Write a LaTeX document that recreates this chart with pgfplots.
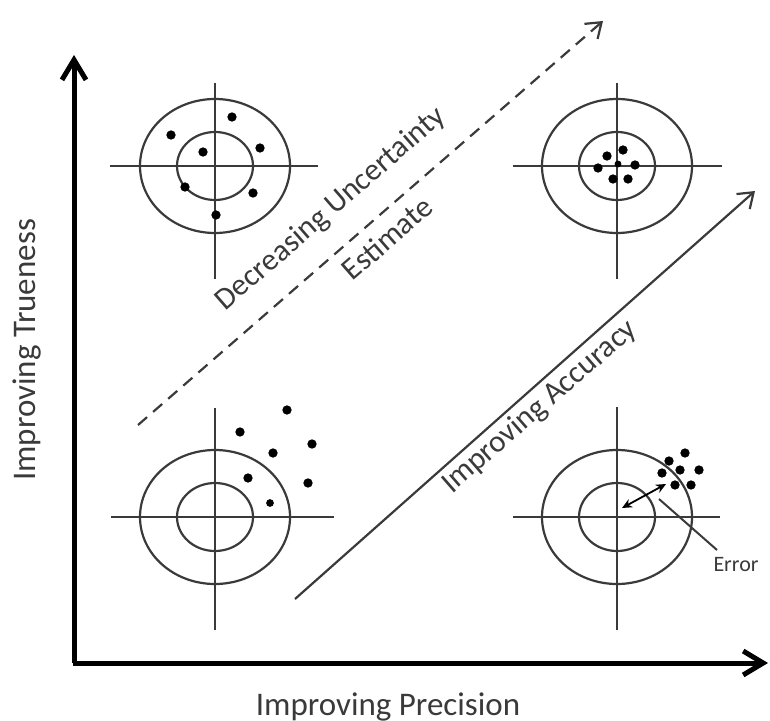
\documentclass[border=0pt]{standalone}
\usepackage{pgfplots}
\pgfplotsset{compat=1.18}
\usepackage{fontspec}
\setmainfont{Carlito}
\usetikzlibrary{arrows.meta}
\definecolor{tgt}{HTML}{3A3A3A}
\begin{document}
\begin{tikzpicture}
\begin{axis}[
  width=385pt, height=360.5pt, scale only axis,
  xmin=0, xmax=770, ymin=0, ymax=721, y dir=reverse,
  hide axis, clip=false,
]
\path[use as bounding box] (axis cs:0,0) rectangle (axis cs:770,721);

% ---- crosshairs
\addplot[tgt, line width=1.1pt] coordinates {(215,83) (215,279)};
\addplot[tgt, line width=1.1pt] coordinates {(110,166) (318,166)};
\addplot[tgt, line width=1.1pt] coordinates {(617,83) (617,279)};
\addplot[tgt, line width=1.1pt] coordinates {(513,166) (722,166)};
\addplot[tgt, line width=1.1pt] coordinates {(215,408) (215,630)};
\addplot[tgt, line width=1.1pt] coordinates {(111,517) (334,517)};
\addplot[tgt, line width=1.1pt] coordinates {(617,407) (617,630)};
\addplot[tgt, line width=1.1pt] coordinates {(513,517) (720,517)};

% ---- rings
\draw[tgt, line width=1.1pt] (axis cs:215,166) ellipse [x radius=75, y radius=67];
\draw[tgt, line width=1.1pt] (axis cs:215,166) ellipse [x radius=38, y radius=34];
\draw[tgt, line width=1.1pt] (axis cs:617,166) ellipse [x radius=75, y radius=67];
\draw[tgt, line width=1.1pt] (axis cs:617,166) ellipse [x radius=38, y radius=34];
\draw[tgt, line width=1.1pt] (axis cs:215,517) ellipse [x radius=75, y radius=67];
\draw[tgt, line width=1.1pt] (axis cs:215,517) ellipse [x radius=38, y radius=34];
\draw[tgt, line width=1.1pt] (axis cs:617,517) ellipse [x radius=75, y radius=67];
\draw[tgt, line width=1.1pt] (axis cs:617,517) ellipse [x radius=38, y radius=34];

% ---- shots
\addplot[only marks, mark=*, mark size=2.1pt, black] coordinates {
 (232,117) (171,135) (203,152) (260,148) (185,187) (253,193) (216,215)};
\addplot[only marks, mark=*, mark size=2.1pt, black] coordinates {
 (623,150) (607,156) (598,168) (635,165) (613,179) (628,179)};
\addplot[only marks, mark=*, mark size=1.5pt, black] coordinates {(618,164)};
\addplot[only marks, mark=*, mark size=2.1pt, black] coordinates {
 (287,410) (240,432) (312,444) (273,453) (248,478) (308,483)};
\addplot[only marks, mark=*, mark size=1.7pt, black] coordinates {(270,503)};
\addplot[only marks, mark=*, mark size=2.1pt, black] coordinates {
 (685,453) (669,461) (680,470) (699,470) (662,473) (675,485) (691,485)};

% ---- error arrow and leader
\addplot[black, line width=0.9pt, {Stealth[length=5pt,width=4.5pt]}-{Stealth[length=5pt,width=4.5pt]}]
  coordinates {(622,508) (666,484)};
\addplot[tgt, line width=1pt] coordinates {(659,499) (717,550)};

% ---- diagonal arrows
\addplot[tgt, line width=1.1pt, dash pattern=on 6pt off 4pt, -{Straight Barb[length=7pt,width=10pt]}]
  coordinates {(138,425) (603,21)};
\addplot[tgt, line width=1.1pt, -{Straight Barb[length=7pt,width=10pt]}]
  coordinates {(295,599) (755,191)};

% ---- main axes
\addplot[black, line width=2.5pt, -{Straight Barb[length=10pt,width=12pt]}]
  coordinates {(74,663) (74,55)};
\addplot[black, line width=2.5pt, -{Straight Barb[length=10pt,width=12pt]}]
  coordinates {(72.75,663) (768,663)};

% ---- text
\node[rotate=90, font=\fontsize{16.5}{19}\selectfont, text=tgt] at (axis cs:27,350) {Improving Trueness};
\node[font=\fontsize{16.5}{19}\selectfont, text=tgt] at (axis cs:388,707) {Improving Precision};
\node[rotate=41, font=\fontsize{15.5}{18}\selectfont, text=tgt] at (axis cs:331,209) {Decreasing Uncertainty};
\node[rotate=41, font=\fontsize{15.5}{18}\selectfont, text=tgt] at (axis cs:387,238) {Estimate};
\node[rotate=41, font=\fontsize{15.5}{18}\selectfont, text=tgt] at (axis cs:540,407) {Improving Accuracy};
\node[font=\fontsize{11}{13}\selectfont, text=tgt] at (axis cs:736,565) {Error};
\end{axis}
\end{tikzpicture}
\end{document}
